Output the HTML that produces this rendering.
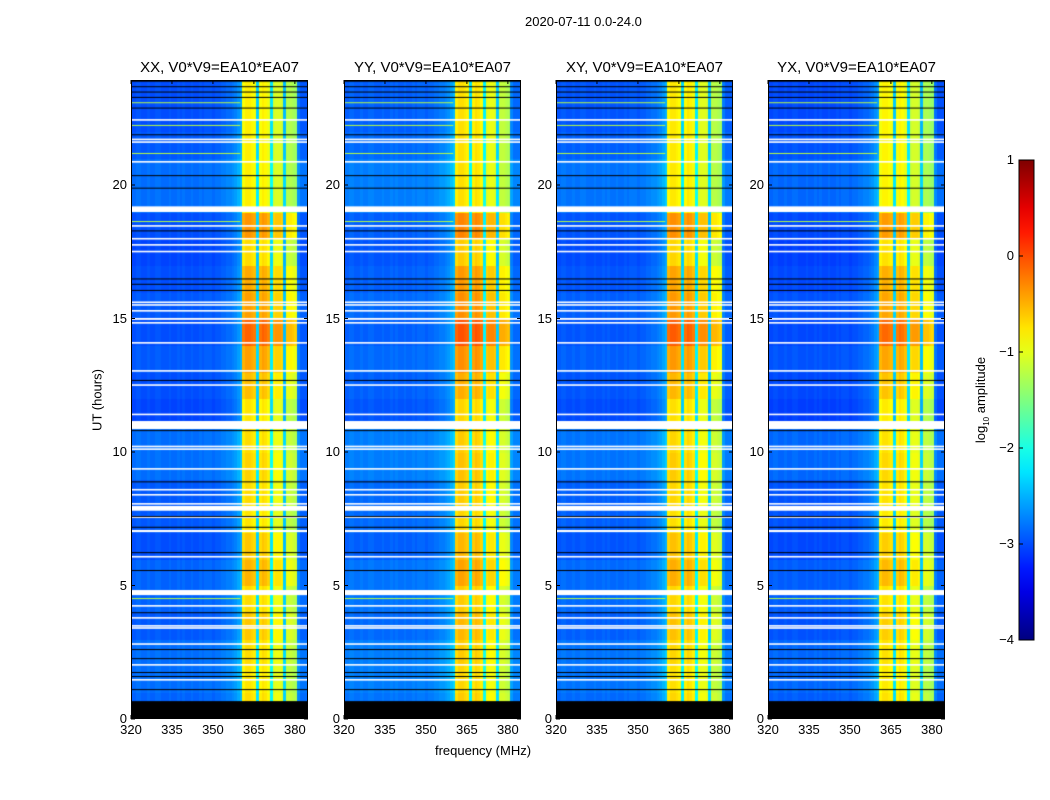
<!DOCTYPE html>
<html><head><meta charset="utf-8">
<style>
body{margin:0;background:#fff;width:1050px;height:800px;overflow:hidden;font-family:"Liberation Sans",sans-serif;}
#wrap{position:relative;width:1050px;height:800px;}
canvas{position:absolute;}
.t{position:absolute;font-size:13px;color:#000;white-space:nowrap;}
.ttl{position:absolute;font-size:15px;color:#000;white-space:nowrap;}
</style></head>
<body><div id="wrap">
<div class="t" style="left:525px;top:14px">2020-07-11 0.0-24.0</div>
<svg id="svg" width="1050" height="800" style="position:absolute;left:0;top:0"></svg>
</div>
<script>
// ---- data ----
const panelTitles = ["XX, V0*V9=EA10*EA07","YY, V0*V9=EA10*EA07","XY, V0*V9=EA10*EA07","YX, V0*V9=EA10*EA07"];
const panelOffsets = [0, 0.08, 0.03, -0.03];
const freqStart = 320, freqStep = 1;
const channelLevels = [-3.05,-3.05,-3.0,-3.0,-3.05,-3.05,-3.0,-3.05,-3.05,-3.0,-3.0,-3.05,-3.05,-3.05,-3.0,-3.05,-3.05,-3.0,-3.05,-3.0,
 -3.05,-3.05,-3.0,-3.05,-3.05,-3.0,-3.05,-3.0,-3.0,-3.0,-3.05,-3.0,-3.0,-2.95,-2.95,-2.9,-2.9,-2.85,-2.8,-2.7,
 -2.6,-0.8,-0.7,-0.7,-0.75,-0.8,-2.4,-0.8,-0.7,-0.75,-0.85,-2.3,-1.0,-0.95,-0.95,-1.0,-2.5,-1.15,-1.15,-1.2,-1.25,-2.85,-3.0,-3.0,-3.0];
const bandMask = [0,0,0,0,0,0,0,0,0,0,0,0,0,0,0,0,0,0,0,0,0,0,0,0,0,0,0,0,0,0,0,0,0,0,0,0,0,0,0,0,0,1,1,1,1,1,0,1,1,1,1,0,1,1,1,1,0,1,1,1,1,0,0,0,0];
const bandMod = [0.0,-0.05,0.0,0.1,0.0,0.2,0.1,-0.05,0.0,0.05,0.0,-0.05,0.15,0.3,0.6,0.3,0.25,0.0,0.35,-0.1,-0.1,-0.1,-0.1,-0.1];
const bgMod = [0.15,0.2,0.2,0.1,0.15,0.15,0.05,0.1,0.1,0.2,0.2,0.0,0.05,0.1,0.05,0.1,0.05,0.0,0.05,0.2,0.2,0.1,0.05,0.05];
const whiteGaps = [[10.86,11.16],[7.8,7.98],[4.64,4.83],[18.99,19.2],[14.95,15.02],[7.0,7.08]];
const whiteLines = [12.5,11.4,10.2,10.1,9.36,8.58,8.39,8.05,7.55,6.07,4.23,3.78,3.48,3.4,2.8,2.02,1.46,22.43,21.7,21.6,20.86,18.46,17.98,17.75,17.5,15.6,15.5,15.28,14.83,14.08,13.03];
const blackLines = [10.82,8.9,7.6,7.2,6.25,5.58,4.0,2.62,2.28,1.76,1.61,1.12,23.9,23.7,23.5,23.3,22.9,21.9,20.37,19.9,18.3,16.5,16.3,16.07,12.7];
const blackBottom = [0,0.67];
const hotLines = [23.1,22.25,21.2,18.65,4.53];
const xTicks = [320,335,350,365,380];
const yTicks = [0,5,10,15,20];
const cbTicks = [1,0,-1,-2,-3,-4];

// ---- layout ----
const panelLefts=[131,344,556,768], PW=177, PT=80, PB=719;
const fmin=320, fmax=320+177/2.731, tmin=0, tmax=(719-80)/26.7;
const xs=(f,L)=>L+(f-fmin)/(fmax-fmin)*PW;
const ys=h=>PB-(h-tmin)/(tmax-tmin)*(PB-PT);
function jet(v){let t=(v+4)/5;t=Math.max(0,Math.min(1,t));
 const r=Math.max(0,Math.min(1,1.5-Math.abs(4*t-3))),g=Math.max(0,Math.min(1,1.5-Math.abs(4*t-2))),b=Math.max(0,Math.min(1,1.5-Math.abs(4*t-1)));
 return `rgb(${r*255|0},${g*255|0},${b*255|0})`;}
const wrap=document.getElementById('wrap'), svg=document.getElementById('svg');
const NS='http://www.w3.org/2000/svg';
function sv(tag,attrs,name){const e=document.createElementNS(NS,tag);for(const k in attrs)e.setAttribute(k,attrs[k]);
 
 
 svg.appendChild(e);return e;}
function txt(cls,x,y,s,name,align){const d=document.createElement('div');d.className=cls;d.textContent=s;
 d.style.left=x+'px';d.style.top=y+'px';
 if(align==='c')d.style.transform='translateX(-50%)';if(align==='r')d.style.transform='translateX(-100%)';
 
 
 wrap.appendChild(d);return d;}

panelLefts.forEach((L,p)=>{
 const cv=document.createElement('canvas');cv.width=PW;cv.height=PB-PT;cv.style.left=L+'px';cv.style.top=PT+'px';
 
 
 wrap.insertBefore(cv,svg);
 const c=cv.getContext('2d');
 const nRows=Math.ceil(tmax/0.1);
 for(let r=0;r<nRows;r++){const h0=r*0.1,h1=h0+0.1;const hi=Math.min(23,Math.floor(h0));
  for(let k=0;k<channelLevels.length;k++){const f0=freqStart+k*freqStep;
   let v=channelLevels[k]+(bandMask[k]?bandMod[hi]:bgMod[hi])+panelOffsets[p];
   c.fillStyle=jet(v);const x0=xs(f0,0),x1=xs(f0+freqStep,0);
   c.fillRect(Math.floor(x0),Math.floor(ys(h1)-PT),Math.ceil(x1-x0)+1,Math.ceil(ys(h0)-ys(h1))+1);}}
 hotLines.forEach(h=>{c.fillStyle=jet(-1.2);c.fillRect(0,ys(h)-PT,xs(360,0),1);});
 whiteGaps.forEach(g=>{c.fillStyle='#fff';c.fillRect(0,ys(g[1])-PT,PW,ys(g[0])-ys(g[1]));});
 c.fillStyle='#fff';whiteLines.forEach(h=>c.fillRect(0,ys(h)-PT-1,PW,1.6));
 c.fillStyle='#000';blackLines.forEach(h=>c.fillRect(0,ys(h)-PT,PW,1));
 c.fillRect(0,ys(blackBottom[1])-PT,PW,ys(blackBottom[0])-ys(blackBottom[1]));
 sv('rect',{x:L+0.5,y:PT+0.5,width:PW-1,height:PB-PT-1,fill:'none',stroke:'#000','stroke-width':1},'panel-frame-'+p);
 xTicks.forEach(f=>{const x=xs(f,L);
  sv('line',{x1:x,x2:x,y1:PB,y2:PB-4,stroke:'#000'},'x-tick');
  sv('line',{x1:x,x2:x,y1:PT,y2:PT+4,stroke:'#000'},'x-tick-top');
  txt('t',x,PB+3,String(f),'x-tick-label','c');});
 yTicks.forEach(h=>{const y=ys(h);
  sv('line',{x1:L,x2:L+4,y1:y,y2:y,stroke:'#000'},'y-tick');
  sv('line',{x1:L+PW,x2:L+PW-4,y1:y,y2:y,stroke:'#000'},'y-tick-right');
  txt('t',L-4,y-8,String(h),'y-tick-label','r');});
 txt('ttl',L+PW/2,59,panelTitles[p],'panel-title','c');
});
txt('t',483,743,'frequency (MHz)','x-axis-title','c');
const yl=txt('t',97,400,'UT (hours)','y-axis-title','c');
yl.style.transform='translate(-50%,-50%) rotate(-90deg)';yl.style.left='97px';yl.style.top='400px';

// colorbar
const defs=sv('defs',{},'colorbar-defs');
const lg=document.createElementNS(NS,'linearGradient');lg.setAttribute('id','jg');lg.setAttribute('x1','0');lg.setAttribute('x2','0');lg.setAttribute('y1','1');lg.setAttribute('y2','0');
for(let i=0;i<=20;i++){const s=document.createElementNS(NS,'stop');s.setAttribute('offset',i/20);s.setAttribute('stop-color',jet(-4+5*i/20));lg.appendChild(s);}
defs.appendChild(lg);
const CBT=160,CBB=640,CBL=1019,CBW=15;
sv('rect',{x:CBL,y:CBT,width:CBW,height:CBB-CBT,fill:'url(#jg)',stroke:'#000','stroke-width':1},'colorbar');
cbTicks.forEach(v=>{const y=CBB-(v+4)/5*(CBB-CBT);
 sv('line',{x1:CBL,x2:CBL+4,y1:y,y2:y,stroke:'#000'},'colorbar-tick');
 txt('t',1014,y-8,(v<0?'\u2212':'')+Math.abs(v),'colorbar-tick-label','r');});
const cl=document.createElement('div');cl.className='t';cl.innerHTML='log<sub style="font-size:8px">10</sub> amplitude';


cl.style.left='982px';cl.style.top='400px';cl.style.transform='translate(-50%,-50%) rotate(-90deg)';wrap.appendChild(cl);
</script>
</body></html>
